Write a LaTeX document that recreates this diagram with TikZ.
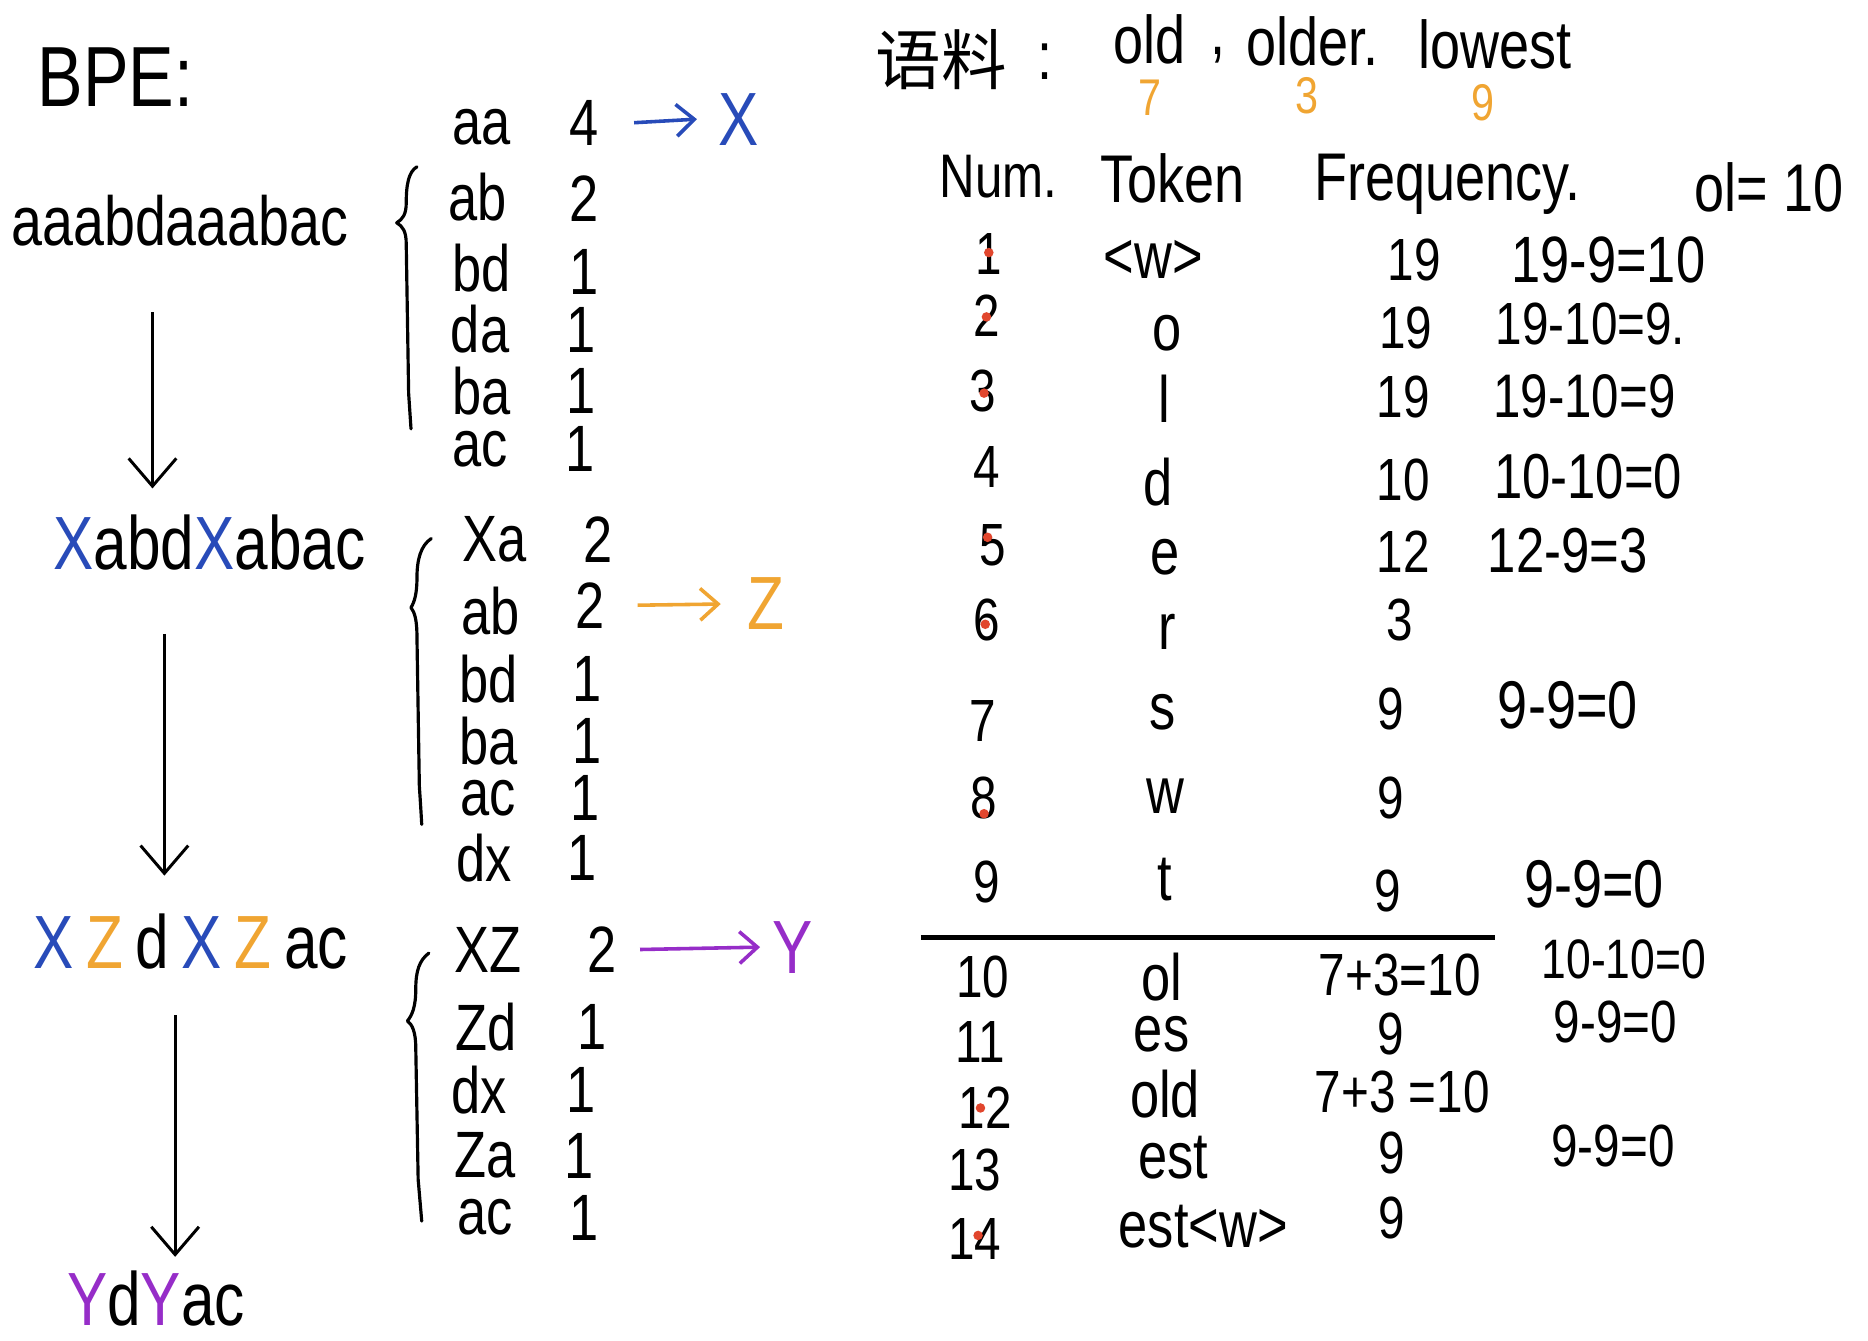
\documentclass[tikz,border=0pt]{standalone}
\usepackage{fontspec}
\setmainfont{Liberation Sans}[FakeStretch=0.8]
\newfontfamily\cjkfont{Noto Sans CJK SC}
\usetikzlibrary{arrows.meta}
\definecolor{hwblue}{RGB}{40,75,185}
\definecolor{hworange}{RGB}{240,165,50}
\definecolor{hwpurple}{RGB}{150,45,200}
\definecolor{hwred}{RGB}{225,70,45}
\tikzset{
  every node/.style={inner sep=0pt, outer sep=0pt},
  fs/.style={font=\fontsize{#1}{#1}\selectfont},
  big/.style={fs=38},
  pair/.style={fs=33},
  hdr/.style={fs=34},
  cell/.style={fs=30},
  tok/.style={fs=33},
  calcx/.style={fs=#1},
  calcx/.default=32,
  flow/.style={-{Straight Barb[length=14pt,width=24pt]}, line width=1.5pt},
  merge/.style={-{Straight Barb[length=9pt,width=16pt]}, line width=1.8pt},
  brace/.style={line width=1.6pt, line cap=round, line join=round},
  dot/.style={fill=hwred},
}
\newcommand{\bX}{\textcolor{hwblue}{X}}
\newcommand{\oZ}{\textcolor{hworange}{Z}}
\newcommand{\pY}{\textcolor{hwpurple}{Y}}
\begin{document}
\begin{tikzpicture}[x=0.6pt,y=-0.6pt]
\useasboundingbox[fill=white] (0,0) rectangle (1568,1125);

% ---------------- left part ----------------
\node[fs=43] (bpe) at (97,65) {BPE:};

\node[fs=35] (s1) at (151,185) {aaabdaaabac};
\node[big] (s2) at (176,455) {\bX abd\bX abac};
\node[big] (s3) at (160,790) {\bX\,\oZ\,d\,\bX\,\oZ\,ac};
\node[big] (s4) at (131,1090) {\pY d\pY ac};

\coordinate (a1s) at (128,262); \coordinate (a1e) at (128,410);
\coordinate (a2s) at (138,532); \coordinate (a2e) at (138,735);
\coordinate (a3s) at (147,852); \coordinate (a3e) at (147,1055);
\draw[flow] (a1s) -- (a1e);
\draw[flow] (a2s) -- (a2e);
\draw[flow] (a3s) -- (a3e);

% table 1
\node[pair] (p11) at (404,107) {aa};
\node[pair] (p12) at (401,165) {ab};
\node[pair] (p13) at (404,225) {bd};
\node[pair] (p14) at (403,276) {da};
\node[pair] (p15) at (404,328) {ba};
\node[pair] (p16) at (403,377) {ac};
\node[pair] (c11) at (490,103) {4};
\node[pair] (c12) at (490,167) {2};
\node[pair] (c13) at (490,228) {1};
\node[pair] (c14) at (488,277) {1};
\node[pair] (c15) at (488,328) {1};
\node[pair] (c16) at (487,377) {1};
\node[big, text=hwblue] (nX) at (620,100) {X};
\draw[merge, hwblue] (c11.east) ++(30,0) -- (nX.west -| 585,0);
\draw[brace] (350,140) .. controls (343,144) and (341,155) .. (341,170)
  .. controls (341,180) and (338,184) .. (333,187)
  .. controls (338,190) and (341,194) .. (341,205)
  -- (343,330) .. controls (344,345) .. (345,360);

% table 2
\node[pair] (p21) at (415,453) {Xa};
\node[pair] (p22) at (412,513) {ab};
\node[pair] (p23) at (410,570) {bd};
\node[pair] (p24) at (410,622) {ba};
\node[pair] (p25) at (410,670) {ac};
\node[pair] (p26) at (406,720) {dx};
\node[pair] (c21) at (502,453) {2};
\node[pair] (c22) at (495,508) {2};
\node[pair] (c23) at (493,570) {1};
\node[pair] (c24) at (493,622) {1};
\node[pair] (c25) at (491,670) {1};
\node[pair] (c26) at (489,720) {1};
\node[big, text=hworange] (nZ) at (643,507) {Z};
\draw[merge, hworange] (c22.east) ++(28,0) -- (nZ.west -| 605,0);
\draw[brace] (362,452) .. controls (353,458) and (350,470) .. (350,485)
  .. controls (350,498) and (348,505) .. (345,510)
  .. controls (348,514) and (350,520) .. (350,535)
  -- (352,660) .. controls (353,675) .. (354,692);

% table 3
\node[pair] (p31) at (410,797) {XZ};
\node[pair] (p32) at (408,862) {Zd};
\node[pair] (p33) at (402,915) {dx};
\node[pair] (p34) at (407,970) {Za};
\node[pair] (p35) at (407,1022) {ac};
\node[pair] (c31) at (505,797) {2};
\node[pair] (c32) at (497,862) {1};
\node[pair] (c33) at (488,915) {1};
\node[pair] (c34) at (486,970) {1};
\node[pair] (c35) at (490,1022) {1};
\node[big, text=hwpurple] (nY) at (665,795) {Y};
\draw[merge, hwpurple] (c31.east) ++(20,0) -- (nY.west -| 638,0);
\draw[brace] (360,800) .. controls (352,806) and (349,815) .. (349,830)
  .. controls (349,845) and (346,852) .. (342,857)
  .. controls (346,860) and (349,866) .. (349,880)
  -- (351,990) .. controls (352,1008) .. (354,1025);

% ---------------- right part ----------------
\node[font=\cjkfont\fontsize{33}{33}\selectfont] (corp) at (790,50) {语料};
\node[fs=34] (colon) at (877,52) {:};
\node[fs=34] (w1) at (965,33) {old};
\node[fs=34] (comma) at (1022,46) {,};
\node[fs=34] (w2) at (1102,35) {older.};
\node[fs=34] (w3) at (1255,37) {lowest};
\node[fs=26, text=hworange] (f1) at (965,82) {7};
\node[fs=26, text=hworange] (f2) at (1097,80) {3};
\node[fs=26, text=hworange] (f3) at (1245,86) {9};

\node[hdr, fs=31] (hnum) at (838,148) {Num.};
\node[hdr] (htok) at (984,150) {Token};
\node[hdr] (hfreq) at (1215,155) {Frequency.};
\node[hdr] (hol) at (1485,157) {ol= 10};

% number column
\foreach \n/\yy/\xx in {1/213/830, 2/265/828, 3/328/825, 4/392/828, 5/458/833,
  6/520/828, 7/605/825, 8/670/826, 9/740/828, 10/820/825, 11/875/823,
  12/930/827, 13/982/818, 14/1040/818}
  \node[cell] (n\n) at (\xx,\yy) {\n};
% red marks
\foreach \px/\py in {830/212, 828/266, 826/330, 829/451, 827/524, 826/683, 823/930, 821/1037}
  \fill[dot] (\px,\py) circle (4);

% token column
\node[tok] (t1) at (968,218) {<w>};
\node[tok] (t2) at (980,280) {o};
\node[tok] (t3) at (977,335) {l};
\node[tok] (t4) at (972,405) {d};
\node[tok] (t5) at (978,468) {e};
\node[tok] (t6) at (980,530) {r};
\node[tok] (t7) at (976,598) {s};
\node[tok] (t8) at (978,668) {w};
\node[tok] (t9) at (978,738) {t};
\node[tok] (t10) at (975,820) {ol};
\node[tok] (t11) at (975,868) {es};
\node[tok] (t12) at (978,918) {old};
\node[tok] (t13) at (985,972) {est};
\node[tok] (t14) at (1010,1030) {est<w>};

% frequency column
\node[cell] (q1) at (1187,218) {19};
\node[cell] (q2) at (1180,275) {19};
\node[cell] (q3) at (1178,333) {19};
\node[cell] (q4) at (1178,403) {10};
\node[cell] (q5) at (1178,463) {12};
\node[cell] (q6) at (1175,520) {3};
\node[cell] (q7) at (1167,595) {9};
\node[cell] (q8) at (1167,670) {9};
\node[cell] (q9) at (1165,748) {9};
\node[cell] (q10) at (1175,818) {7+3=10};
\node[cell] (q11) at (1167,868) {9};
\node[cell] (q12) at (1177,917) {7+3 =10};
\node[cell] (q13) at (1168,968) {9};
\node[cell] (q14) at (1168,1022) {9};

% calculation column
\node[calcx=33] (k1) at (1350,218) {19-9=10};
\node[calcx=30] (k2) at (1335,272) {19-10=9.};
\node[calcx=31] (k3) at (1330,333) {19-10=9};
\node[calcx=32] (k4) at (1333,400) {10-10=0};
\node[calcx=32] (k5) at (1316,462) {12-9=3};
\node[calcx=34] (k7) at (1316,592) {9-9=0};
\node[calcx=34] (k9) at (1338,742) {9-9=0};
\node[calcx=28] (k10) at (1363,805) {10-10=0};
\node[calcx=30] (k11) at (1356,858) {9-9=0};
\node[calcx=30] (k13) at (1354,962) {9-9=0};

% separator
\coordinate (r1) at (773,787); \coordinate (r2) at (1255,787);
\draw[line width=2.4pt] (r1) -- (r2);
\end{tikzpicture}
\end{document}
